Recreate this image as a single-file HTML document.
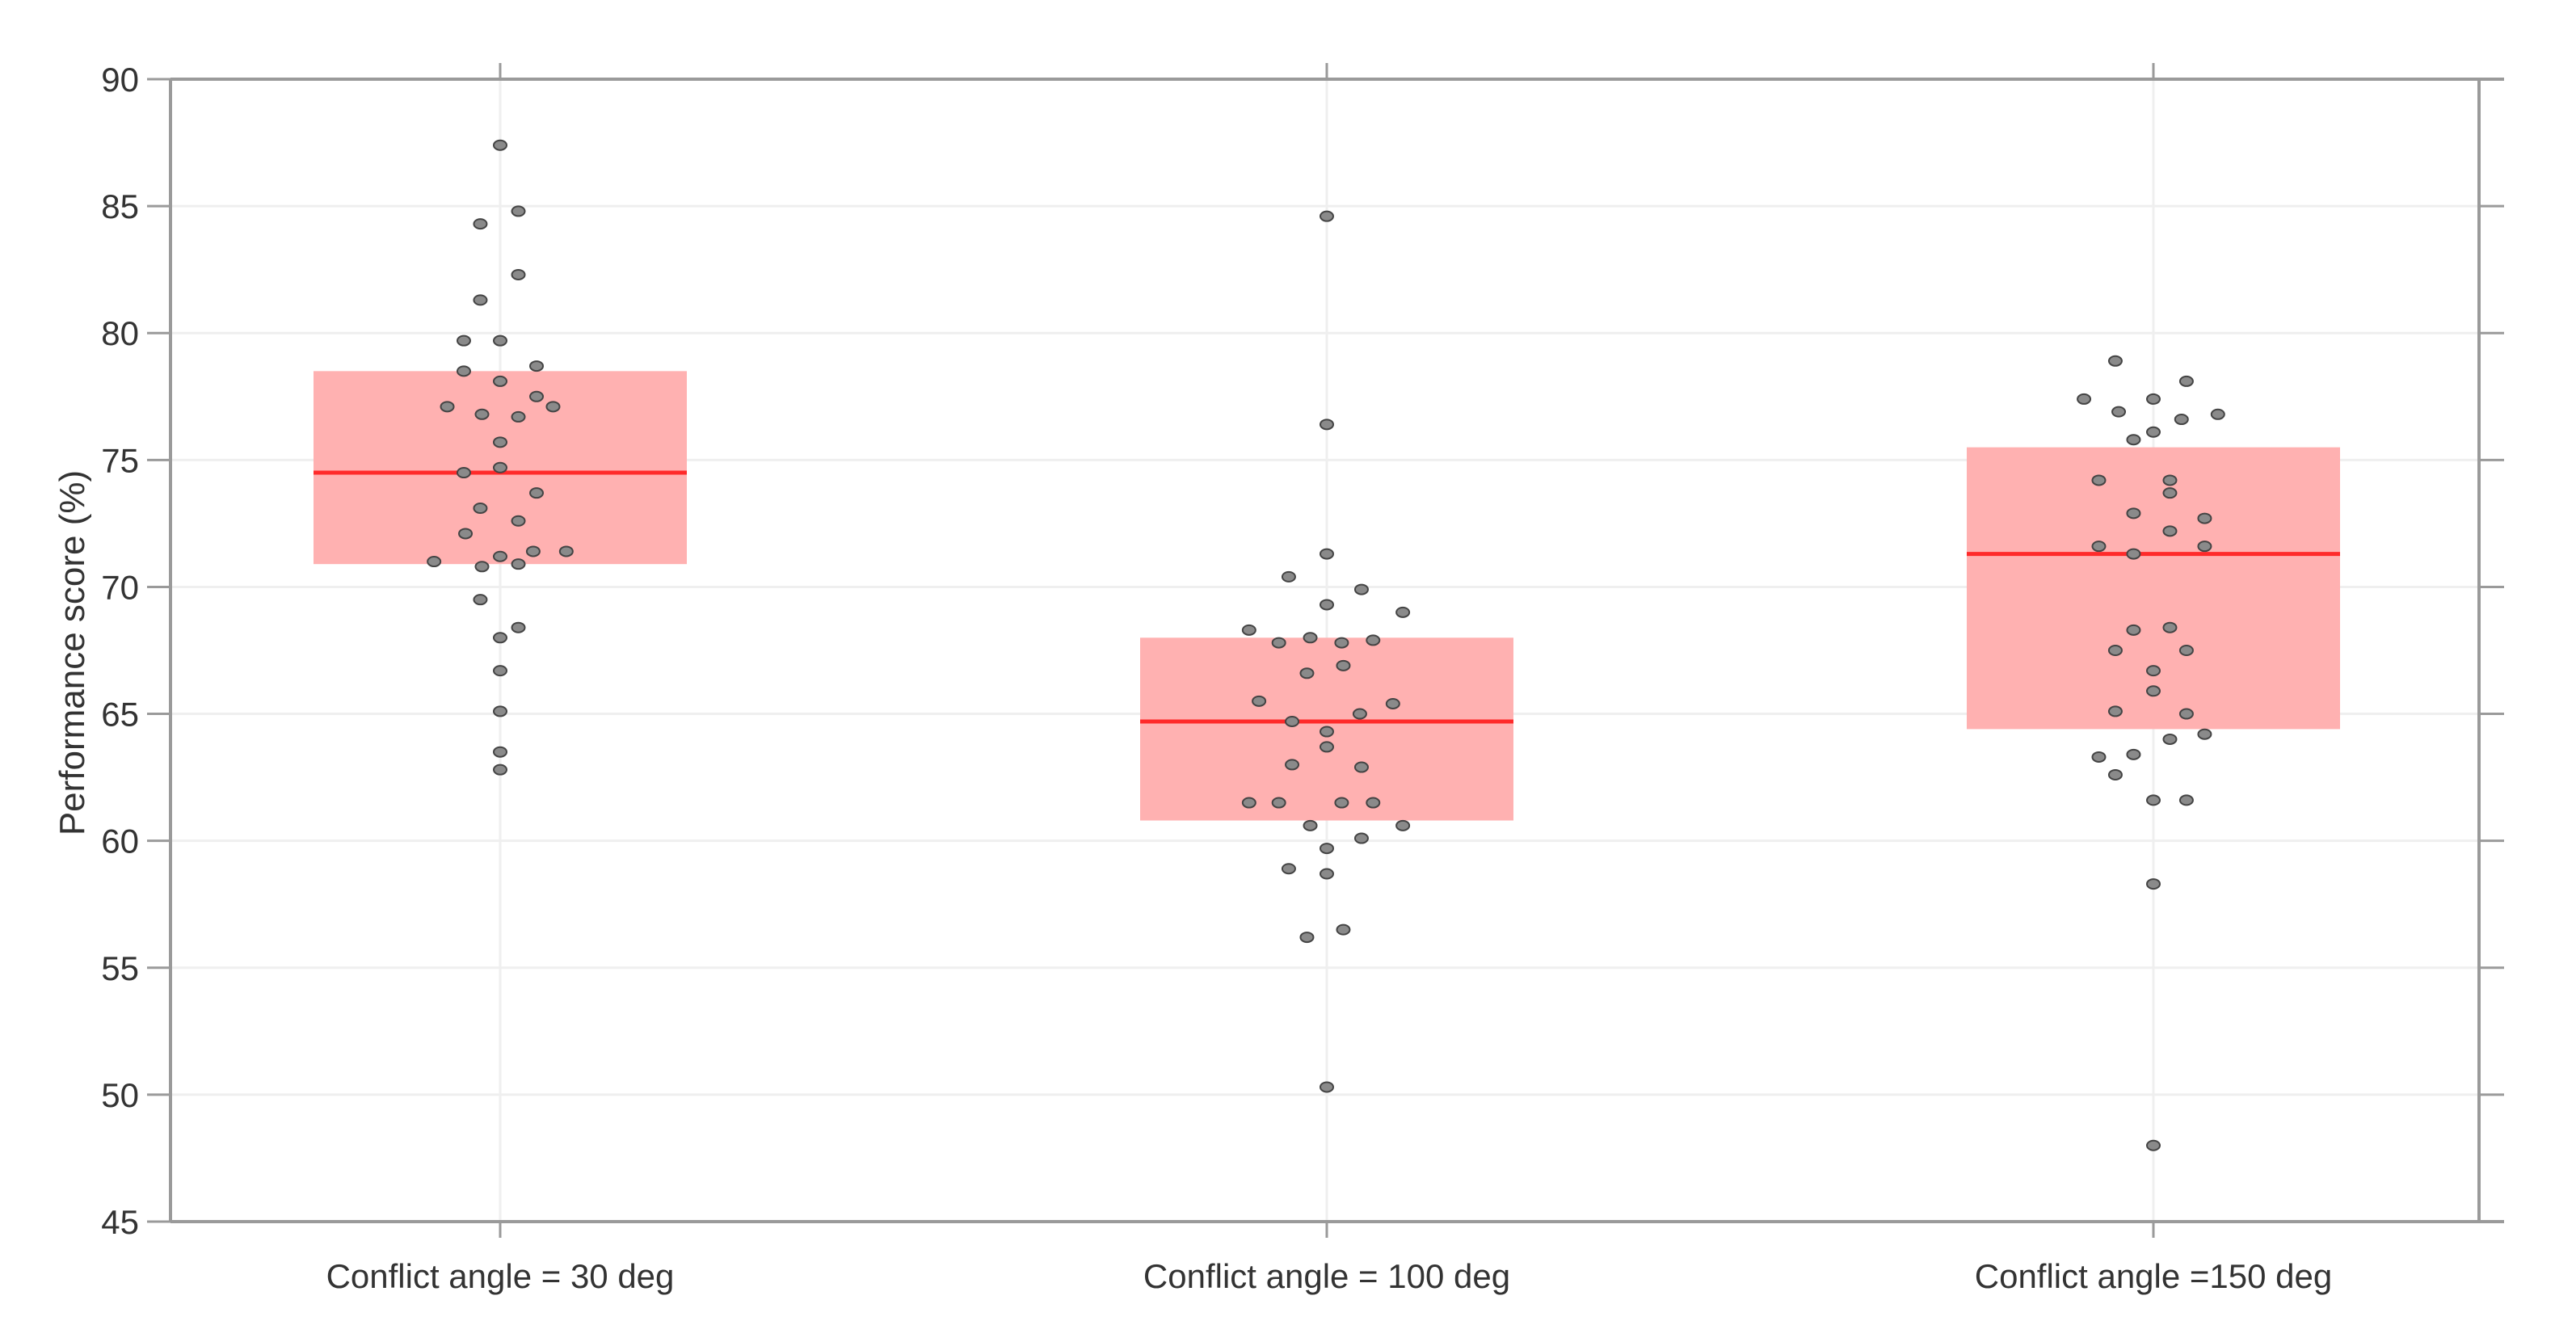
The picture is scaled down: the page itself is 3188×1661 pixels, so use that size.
<!DOCTYPE html>
<html><head><meta charset="utf-8"><style>
html,body{margin:0;padding:0;background:#fff;}
svg text{font-family:"Liberation Sans",sans-serif;fill:#333;}
</style></head><body>
<svg id="chart" width="3188" height="1656" viewBox="0 0 3188 1656" xmlns="http://www.w3.org/2000/svg">
<g id="grid"></g>
<g id="boxes"></g>
<g id="pts"></g>
<g id="axes"></g>
<text x="0" y="0" transform="translate(104,808) rotate(-90)" text-anchor="middle" font-size="44">Performance score (%)</text>
</svg>
<script>
const categories = ["Conflict angle = 30 deg","Conflict angle = 100 deg","Conflict angle =150 deg"];
const yTicks = [45,50,55,60,65,70,75,80,85,90];
const q1 = [70.9, 60.8, 64.4];
const q3 = [78.5, 68.0, 75.5];
const medians = [74.5, 64.7, 71.3];
const vals1 = [87.4,84.3,84.8,82.3,81.3,79.7,79.7,78.5,78.7,78.1,77.1,77.5,77.1,76.8,76.7,75.7,74.5,74.7,73.7,73.1,72.6,72.1,71.0,70.8,71.2,70.9,71.4,71.4,69.5,68.4,68.0,66.7,65.1,63.5,62.8];
const jit1 = [0,-12,11,11,-12,-22,0,-22,22,0,-32,22,32,-11,11,0,-22,0,22,-12,11,-21,-40,-11,0,11,20,40,-12,11,0,0,0,0,0];
const vals2 = [84.6,76.4,71.3,70.4,69.9,69.3,69.0,68.3,67.8,68.0,67.8,67.9,66.6,66.9,65.5,65.4,64.7,65.0,64.3,63.7,63.0,62.9,61.5,61.5,61.5,61.5,60.6,60.6,60.1,59.7,58.9,58.7,56.5,56.2,50.3];
const jit2 = [0,0,0,-23,21,0,46,-47,-29,-10,9,28,-12,10,-41,40,-21,20,0,0,-21,21,-47,-29,9,28,-10,46,21,0,-23,0,10,-12,0];
const vals3 = [78.9,78.1,77.4,77.4,76.9,76.6,76.8,76.1,75.8,74.2,74.2,73.7,72.9,72.7,72.2,71.6,71.3,71.6,68.3,68.4,67.5,67.5,66.7,65.9,65.1,65.0,64.0,64.2,63.3,63.4,62.6,61.6,61.6,58.3,48.0];
const jit3 = [-23,20,-42,0,-21,17,39,0,-12,-33,10,10,-12,31,10,-33,-12,31,-12,10,-23,20,0,0,-23,20,10,31,-33,-12,-23,0,20,0,0];
const values = [vals1, vals2, vals3];
const jitters = [jit1, jit2, jit3];

const NS = "http://www.w3.org/2000/svg";
const L = 211, R = 3068, T = 98, B = 1512, YMIN = 45, YMAX = 90;
function yS(v){ return B - (v - YMIN) / (YMAX - YMIN) * (B - T); }
function xS(c){ return 619 + c * 1023; }
function mk(tag, attrs, parent){ const e = document.createElementNS(NS, tag); for (const k in attrs) e.setAttribute(k, attrs[k]); parent.appendChild(e); return e; }
const grid = document.getElementById('grid'), boxes = document.getElementById('boxes'), pts = document.getElementById('pts'), axes = document.getElementById('axes');

yTicks.forEach(t => {
  const g = mk('line', {x1:L, x2:R, y1:yS(t), y2:yS(t), stroke:'#efefef', 'stroke-width':3}, grid);
  
  
});
categories.forEach((c, i) => {
  const g = mk('line', {x1:xS(i), x2:xS(i), y1:T, y2:B, stroke:'#efefef', 'stroke-width':3}, grid);
  
  
});

categories.forEach((c, i) => {
  const hw = 231;
  const r = mk('rect', {x:xS(i)-hw, y:yS(q3[i]), width:2*hw, height:yS(q1[i])-yS(q3[i]), fill:'#ffb1b1'}, boxes);
  
  
  const m = mk('line', {x1:xS(i)-hw, x2:xS(i)+hw, y1:yS(medians[i]), y2:yS(medians[i]), stroke:'#ff2a2a', 'stroke-width':5}, boxes);
  
  
});

values.forEach((arr, i) => {
  arr.forEach((v, j) => {
    const cx = xS(i + jitters[i][j] / 500);
    const p = mk('ellipse', {cx:cx, cy:yS(v), rx:8, ry:6, fill:'#8a8a8a', stroke:'#444', 'stroke-width':2}, pts);
    
    
  });
});

[[L,T,3099,T],[L,B,3099,B],[L,T,L,B],[R,T,R,B]].forEach(a => {
  const l = mk('line', {x1:a[0], y1:a[1], x2:a[2], y2:a[3], stroke:'#9a9a9a', 'stroke-width':4}, axes);
  
  
});
yTicks.forEach(t => {
  const tk = mk('line', {x1:182, x2:L, y1:yS(t), y2:yS(t), stroke:'#9a9a9a', 'stroke-width':3}, axes);
  
  
  const tk2 = mk('line', {x1:R, x2:3099, y1:yS(t), y2:yS(t), stroke:'#9a9a9a', 'stroke-width':3}, axes);
  
  
  const tx = mk('text', {x:172, y:yS(t)+15, 'text-anchor':'end', 'font-size':42}, axes);
  tx.textContent = t;
  
  
});
categories.forEach((c, i) => {
  const a = mk('line', {x1:xS(i), x2:xS(i), y1:T-20, y2:T, stroke:'#9a9a9a', 'stroke-width':3}, axes);
  
  
  const b = mk('line', {x1:xS(i), x2:xS(i), y1:B, y2:B+20, stroke:'#9a9a9a', 'stroke-width':3}, axes);
  
  
  const tx = mk('text', {x:xS(i), y:1594, 'text-anchor':'middle', 'font-size':42}, axes);
  tx.textContent = c;
  
  
});
</script>
</body></html>
